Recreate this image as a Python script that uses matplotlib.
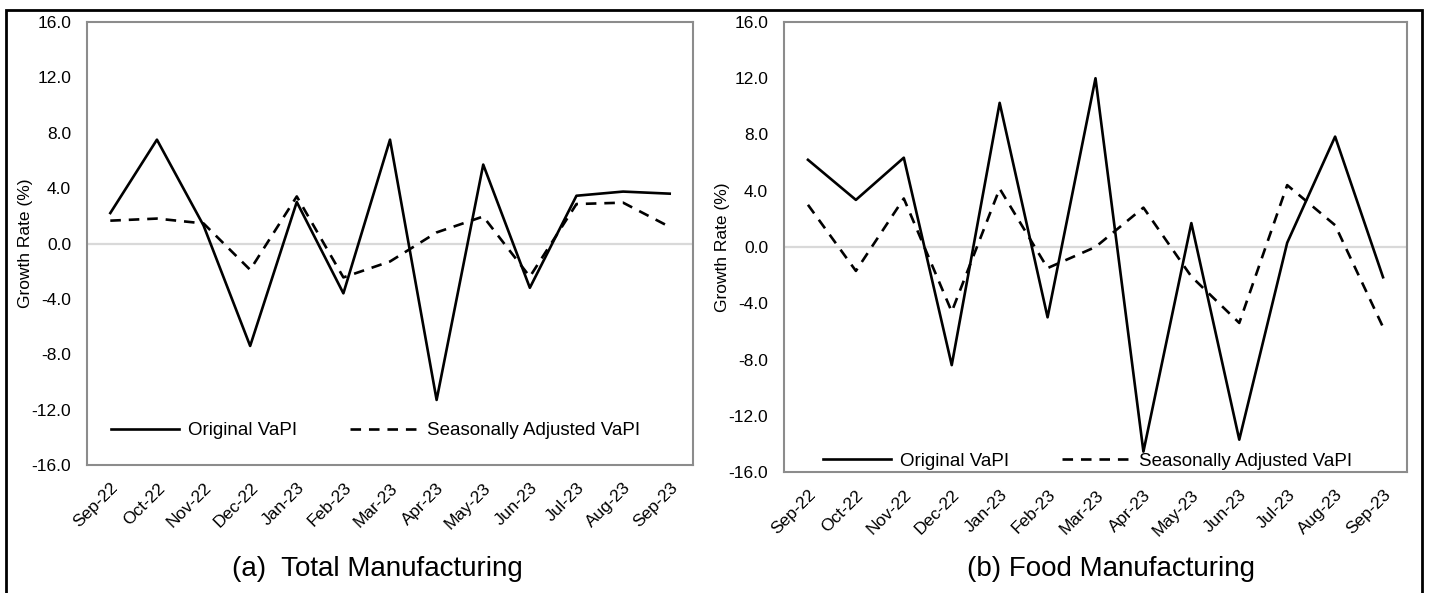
import matplotlib
matplotlib.use("Agg")
import matplotlib.pyplot as plt
from matplotlib.patches import Rectangle

plt.rcParams['font.family'] = ['Liberation Sans', 'DejaVu Sans']

months = ["Sep-22", "Oct-22", "Nov-22", "Dec-22", "Jan-23", "Feb-23", "Mar-23",
          "Apr-23", "May-23", "Jun-23", "Jul-23", "Aug-23", "Sep-23"]

total_original = [2.2, 7.5, 1.3, -7.4, 3.0, -3.6, 7.5, -11.3, 5.7, -3.2, 3.45, 3.75, 3.6]
total_sa = [1.65, 1.8, 1.45, -1.9, 3.4, -2.45, -1.3, 0.8, 1.95, -2.4, 2.85, 2.95, 1.2]

food_original = [6.2, 3.35, 6.35, -8.4, 10.25, -5.0, 12.0, -14.55, 1.7, -13.7, 0.3, 7.85, -2.15]
food_sa = [3.0, -1.7, 3.45, -4.6, 4.15, -1.5, 0.0, 2.8, -2.1, -5.4, 4.4, 1.55, -5.7]

yticks = [-16, -12, -8, -4, 0, 4, 8, 12, 16]
titles = ["(a)  Total Manufacturing", "(b) Food Manufacturing"]
legend_labels = ["Original VaPI", "Seasonally Adjusted VaPI"]

W, H = 1429, 593
fig = plt.figure(figsize=(W / 100, H / 100), dpi=100)

def px_axes(x0, y0, x1, y1):
    return fig.add_axes([x0 / W, 1 - y1 / H, (x1 - x0) / W, (y1 - y0) / H])

ax1 = px_axes(87, 22, 693, 465)
ax2 = px_axes(784, 22, 1407, 472)

panels = [
    (ax1, total_original, total_sa, titles[0], (0.476, 0.077), 377.5),
    (ax2, food_original, food_sa, titles[1], (0.487, 0.024), 1111),
]

for ax, orig, sa, title, legpos, tx in panels:
    x = list(range(len(months)))
    ax.axhline(0, color="#d9d9d9", lw=1.6, zorder=1)
    ax.plot(x, orig, color="black", lw=1.9, label=legend_labels[0], zorder=3)
    ax.plot(x, sa, color="black", lw=1.9, ls=(0, (4, 3)), label=legend_labels[1], zorder=3)
    ax.set_xlim(-0.5, len(months) - 0.5)
    ax.set_ylim(-16, 16)
    ax.set_yticks(yticks)
    ax.set_yticklabels([f"{v:.1f}" for v in yticks], fontsize=12.5)
    ax.set_xticks(x)
    ax.set_xticklabels(months, fontsize=12.5, rotation=45, ha="right", va="top",
                       rotation_mode="anchor")
    ax.tick_params(axis="both", length=0)
    ax.tick_params(axis="y", pad=11.5)
    ax.tick_params(axis="x", pad=11)
    for s in ax.spines.values():
        s.set_color("#8c8c8c")
        s.set_linewidth(1.5)
    ax.set_ylabel("Growth Rate (%)", fontsize=12.5)
    ax.yaxis.set_label_coords(-0.089 if ax is ax1 else -0.087, 0.5)
    leg = ax.legend(loc="center", bbox_to_anchor=legpos, ncol=2, frameon=False,
                    fontsize=13.5, handlelength=3.6, handletextpad=0.5,
                    columnspacing=2.8, borderpad=0)
    fig.text(tx / W, 1 - 569 / H, title, fontsize=20, ha="center", va="center")

fig.patches.append(Rectangle((6 / W, -0.02), (1422 - 6) / W, 1 - 10 / H + 0.02,
                             transform=fig.transFigure, fill=False,
                             edgecolor="black", lw=2, zorder=10))

fig.savefig("out.png", dpi=100)
